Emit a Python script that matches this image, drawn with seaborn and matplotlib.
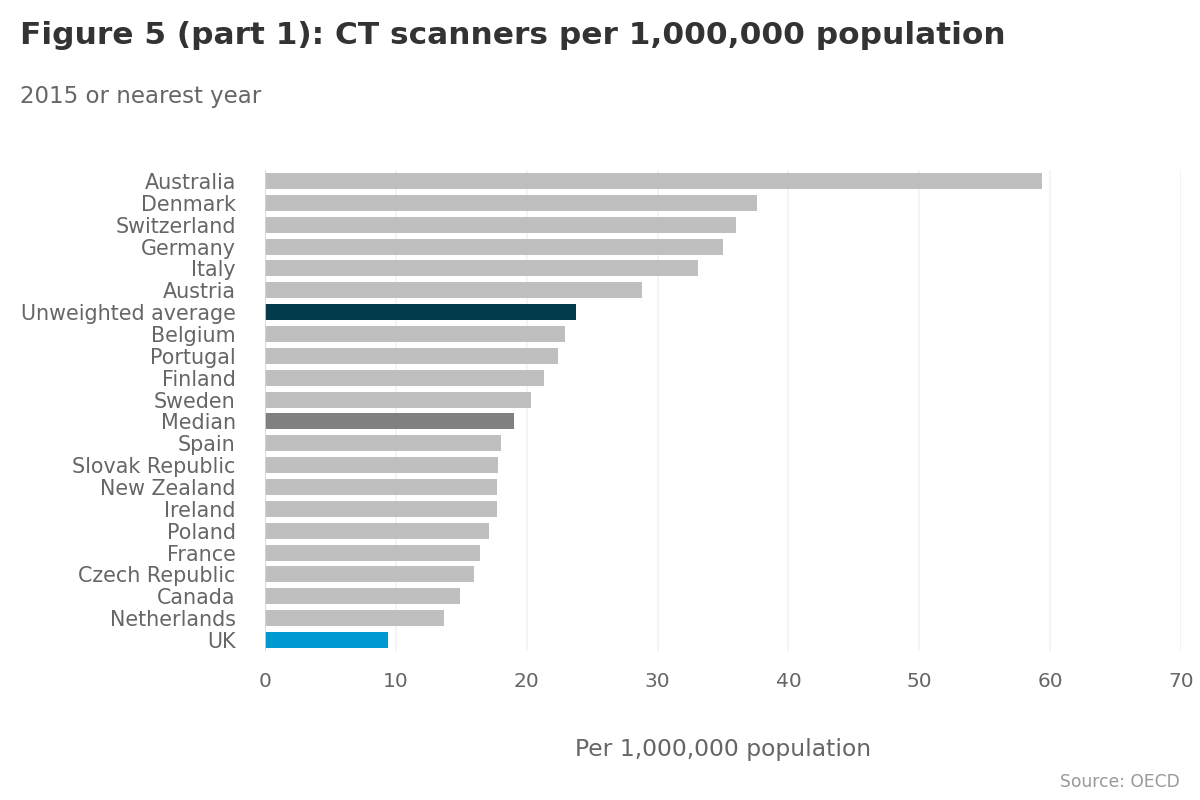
import pandas as pd
import seaborn as sns
import matplotlib.pyplot as plt

# dados (scanners CT por 1.000.000 hab.)
paises = ['Australia', 'Denmark', 'Switzerland', 'Germany', 'Italy', 'Austria',
          'Unweighted average', 'Belgium', 'Portugal', 'Finland', 'Sweden', 'Median',
          'Spain', 'Slovak Republic', 'New Zealand', 'Ireland', 'Poland', 'France',
          'Czech Republic', 'Canada', 'Netherlands', 'UK']
valores = [59.4, 37.6, 36.0, 35.0, 33.1, 28.8,
           23.8, 22.9, 22.4, 21.3, 20.3, 19.05,
           18.0, 17.8, 17.7, 17.7, 17.1, 16.4,
           16.0, 14.9, 13.7, 9.4]
destaques = {'Unweighted average': '#023b4b', 'Median': '#808080', 'UK': '#0099d0'}

df = pd.DataFrame({'pais': paises, 'valor': valores})
cores = [destaques.get(p, '#bfbfbf') for p in paises]

sns.set_theme(style='white')
plt.rcParams['font.family'] = ['DejaVu Sans']

fig = plt.figure(figsize=(12, 8), dpi=100)
ax = fig.add_axes([265 / 1200, 1 - 651 / 800, (1181 - 265) / 1200, (651 - 170) / 800])

sns.barplot(data=df, x='valor', y='pais', hue='pais', palette=cores, legend=False,
            width=0.73, saturation=1, linewidth=0, ax=ax, zorder=3)

ax.set_xlim(0, 70)
ax.set_xticks(range(0, 71, 10))
ax.grid(axis='x', color='#f2f2f2', linewidth=1.2, zorder=0)
ax.grid(axis='y', visible=False)
ax.axvline(0, color='#ccd6eb', linewidth=1.2, zorder=4)
for s in ax.spines.values():
    s.set_visible(False)

ax.tick_params(axis='y', length=0, pad=21, labelsize=14.9, labelcolor='#666666')
ax.tick_params(axis='x', length=0, pad=15, labelsize=14.5, labelcolor='#666666')
ax.set_ylabel('')
ax.set_xlabel('Per 1,000,000 population', fontsize=16.9, color='#666666', labelpad=34)

fig.text(20 / 1200, 1 - 36 / 800, 'Figure 5 (part 1): CT scanners per 1,000,000 population',
         fontsize=22.5, fontweight='bold', color='#333333', va='center', ha='left')
fig.text(20 / 1200, 1 - 96 / 800, '2015 or nearest year',
         fontsize=16.5, color='#666666', va='center', ha='left')
fig.text(1180 / 1200, 1 - 782 / 800, 'Source: OECD',
         fontsize=12.3, color='#999999', va='center', ha='right')

fig.savefig('out.png', dpi=100)
